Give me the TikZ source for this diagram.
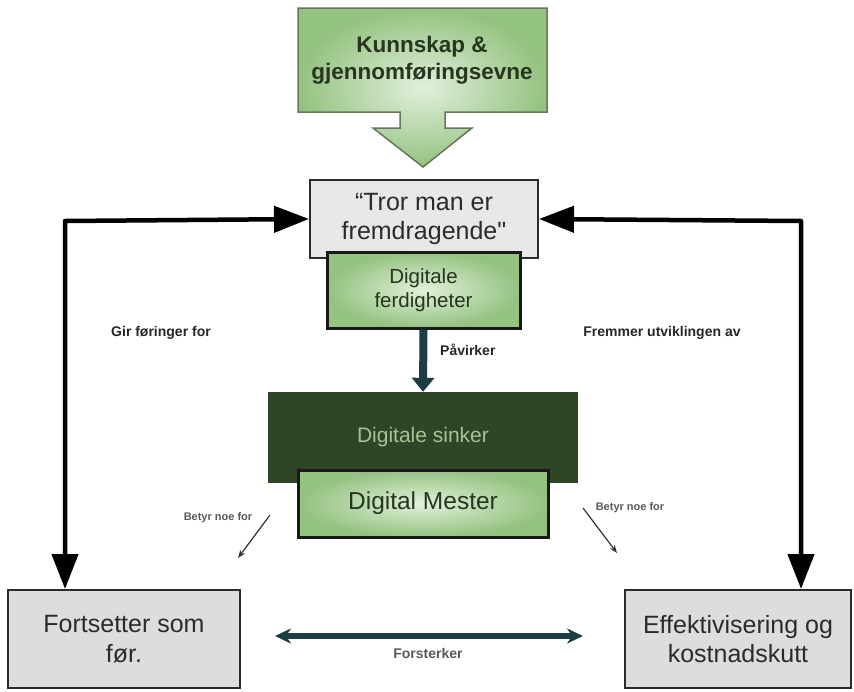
\documentclass[tikz,border=0pt]{standalone}
\usepackage{fontspec}
\setmainfont{Liberation Sans}
\newfontfamily\plainquote{Liberation Sans}[Ligatures=ResetAll]
\usetikzlibrary{arrows.meta}

\definecolor{greenOut}{HTML}{94C280}
\definecolor{greenIn}{HTML}{E2F0DC}
\definecolor{greenEdge}{HTML}{66775E}
\definecolor{greyFill}{HTML}{DDDDDD}
\definecolor{greyLight}{HTML}{E8E8E8}
\definecolor{sinkerFill}{HTML}{2E4528}
\definecolor{sinkerText}{HTML}{A3C493}
\definecolor{tealDark}{HTML}{1E3C44}
\definecolor{textDark}{HTML}{2B2B2B}
\definecolor{textGreen}{HTML}{26361F}

\newcommand{\fs}[1]{\fontsize{#1}{1.18\dimexpr#1pt\relax}\selectfont}

\tikzset{
  greybox/.style={draw=textDark, line width=2pt, fill=greyFill, align=center,
    text=textDark, inner sep=0pt},
  greenbox/.style={draw=black!90, line width=3pt, inner color=greenIn,
    outer color=greenOut, align=center, text=textGreen, inner sep=0pt},
  bigconn/.style={line width=4.5pt, black,
    {Triangle[length=35pt,width=26pt]}-{Triangle[length=35pt,width=26pt]}},
  tealarrow/.style={line width=8pt, tealDark, -{Triangle[length=14pt,width=22pt]}},
  tealdouble/.style={line width=6pt, tealDark,
    {Stealth[length=16pt,width=15pt]}-{Stealth[length=16pt,width=15pt]}},
  thinarrow/.style={line width=1.2pt, black!80, -{Stealth[length=8pt,width=6pt]}},
  lbl/.style={font=\bfseries\fs{14}, text=black!85, inner sep=0pt},
  smalllbl/.style={font=\bfseries\fs{11}, text=black!65, inner sep=0pt},
}

\begin{document}
\begin{tikzpicture}[x=1pt, y=-1pt]
\useasboundingbox (0,0) rectangle (854,691);

% block arrow at the top
\path[draw=greenEdge, line width=1.5pt, inner color=greenIn, outer color=greenOut]
  (298,8) -- (547,8) -- (547,112) -- (445,112) -- (445,128) -- (472,128)
  -- (423,167) -- (373,128) -- (400,128) -- (400,112) -- (298,112) -- cycle;
\node[align=center, font=\bfseries\fs{22.5}, text=textGreen] (kunnskap) at (422,60)
  {Kunnskap \&\\gjennomføringsevne};

% central column
\node[greybox, fill=greyLight, minimum width=228pt, minimum height=78pt,
  font=\fs{25}] (tror) at (424,219) {“Tror man er\\fremdragende{\plainquote"}};
\node[greenbox, minimum width=193pt, minimum height=76pt, font=\fs{20.5}]
  (ferd) at (423.5,290) {Digitale\\ferdigheter};

\node[fill=sinkerFill, minimum width=310pt, minimum height=91pt, inner sep=0pt,
  font=\fs{21}, text=sinkerText] (sinker) at (423,437.5) {Digitale sinker};
\node[greenbox, minimum width=250pt, minimum height=67pt, font=\fs{24.5}]
  (mester) at (423,503.5) {Digital Mester};

% bottom boxes
\node[greybox, minimum width=232pt, minimum height=98pt, font=\fs{25}]
  (fortsetter) at (124,639) {Fortsetter som\\før.};
\node[greybox, minimum width=226pt, minimum height=98pt, font=\fs{25}]
  (effekt) at (738,639) {Effektivisering og\\kostnadskutt};

% long connectors
\coordinate (lcorner) at (65,221);
\coordinate (rcorner) at (801,221);
\draw[bigconn, line join=round] (tror.west) -- (lcorner) -- (lcorner |- fortsetter.north);
\draw[bigconn, line join=round] (tror.east) -- (rcorner) -- (rcorner |- effekt.north);
\node[lbl] (girlbl) at (161,333) {Gir føringer for};
\node[lbl] (fremlbl) at (662,333) {Fremmer utviklingen av};

% influence arrow
\draw[tealarrow] (ferd.south) -- (sinker.north);
\node[lbl, anchor=west] (pavlbl) at (440,350) {Påvirker};

% minor arrows
\coordinate (la1) at (270,515);
\coordinate (la2) at (238,558);
\coordinate (ra1) at (583,508);
\coordinate (ra2) at (617,553);
\draw[thinarrow] (la1) -- (la2);
\draw[thinarrow] (ra1) -- (ra2);
\node[smalllbl] (betyrl) at (218,518) {Betyr noe for};
\node[smalllbl] (betyrr) at (630,508) {Betyr noe for};

% mutual reinforcement
\coordinate (fa) at (275,636);
\coordinate (fb) at (583,636);
\draw[tealdouble] (fa) -- (fb);
\node[lbl, text=black!65] (forlbl) at (428,653) {Forsterker};
\end{tikzpicture}
\end{document}
